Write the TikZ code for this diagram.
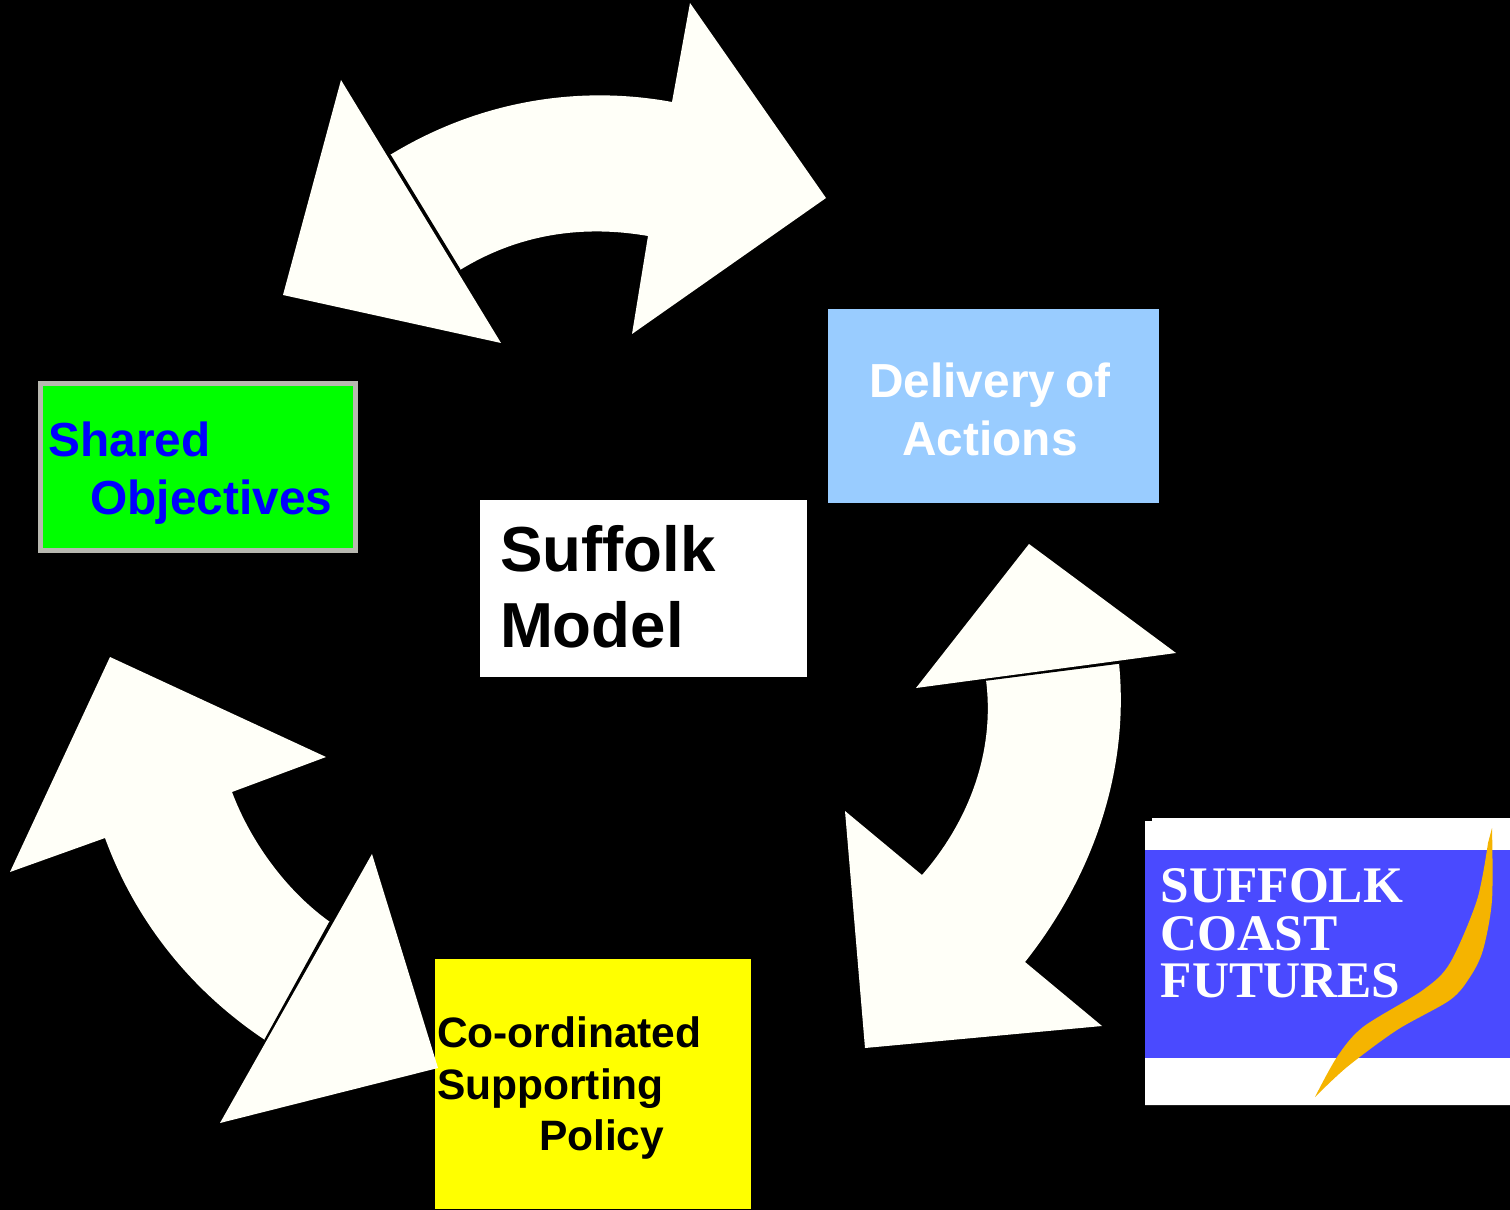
\documentclass[tikz,border=0pt]{standalone}
\usepackage{fontspec}
\setmainfont{Liberation Sans}
\newfontfamily\logofont{Liberation Serif}
\usepackage{tikz}
\definecolor{arrowcream}{HTML}{FFFFF8}
\definecolor{framegrey}{HTML}{B8B8B0}
\definecolor{deliveryblue}{HTML}{99CCFF}
\definecolor{policyyellow}{HTML}{FFFF00}
\definecolor{logoblue}{HTML}{4A4AFF}
\definecolor{logogold}{HTML}{F5B400}

\begin{document}
\begin{tikzpicture}[every node/.style={inner sep=0pt, font=\bfseries},
		box/.style={anchor=center, align=left},
		block/.style={fill=arrowcream},
		seam/.style={black, line width=.015cm}]
		\fill[black] (0, 0) rectangle (15.1, -12.1);
		
		\node[box, fill=green, draw=framegrey, line width=.05cm, minimum width=3.15cm, minimum height=1.67cm, text width=3.15cm, font=\fontsize{13.6}{16.5}\bfseries\selectfont, text=blue] (objectives) at (1.98, -4.67) {\rule{0pt}{.469cm}\hspace*{.08cm}Shared\\\hspace*{.5cm}Objectives};
		\node[box, fill=deliveryblue, minimum width=3.31cm, minimum height=1.94cm, align=center, text width=3.31cm, font=\fontsize{13.6}{16.5}\bfseries\selectfont, text=white] (delivery) at (9.935, -4.06) {\rule{0pt}{.42cm}\hspace*{-.07cm}Delivery\hspace{.22em}of\\\hspace*{-.07cm}Actions};
		\node[box, fill=white, minimum width=3.27cm, minimum height=1.77cm, text width=3.27cm, font=\fontsize{18.1}{21.6}\bfseries\selectfont] (model) at (6.435, -5.885) {\hspace*{.2cm}Suffolk\\\hspace*{.2cm}Model\vspace{.04cm}};
		\node[box, fill=policyyellow, minimum width=3.16cm, minimum height=2.5cm, text width=3.16cm, font=\fontsize{12.1}{14.7}\bfseries\selectfont] (policy) at (5.93, -10.84) {\rule{0pt}{.39cm}\hspace*{.02cm}Co-ordinated\\\hspace*{.02cm}Supporting\\\hspace*{1.04cm}Policy};
		
		% top arrow
		\fill[block] (3.9, -1.55) .. controls (4.8, -1) and (5.8, -.85) .. (6.72, -1.02) -- (6.9, -.03) -- (8.26, -1.98) -- (6.32, -3.34) -- (6.48, -2.36) .. controls (5.85, -2.25) and (5.2, -2.33) .. (4.6, -2.7) -- cycle;
		\fill[block] (3.41, -.8) -- (2.83, -2.95) -- (5.01, -3.43) -- cycle;
		\draw[seam] (3.9, -1.55) -- (4.6, -2.7);
		
		% right arrow
		\fill[block] (11.19, -6.63) .. controls (11.3, -7.75) and (10.9, -8.8) .. (10.25, -9.62) -- (11.02, -10.26) -- (8.65, -10.48) -- (8.45, -8.11) -- (9.22, -8.75) .. controls (9.7, -8.2) and (9.95, -7.5) .. (9.86, -6.8) -- cycle;
		\fill[block] (10.29, -5.44) -- (11.76, -6.53) -- (9.16, -6.88) -- cycle;
		\draw[seam] (9.86, -6.8) -- (11.19, -6.63);
		
		% left arrow
		\fill[block] (3.3, -9.22) .. controls (2.85, -8.9) and (2.5, -8.4) .. (2.32, -7.92) -- (3.26, -7.57) -- (1.1, -6.57) -- (.1, -8.72) -- (1.05, -8.38) .. controls (1.35, -9.2) and (1.9, -9.9) .. (2.65, -10.4) -- cycle;
		\fill[block] (3.72, -8.54) -- (4.38, -10.68) -- (2.2, -11.23) -- cycle;
		\draw[seam] (3.3, -9.22) -- (2.65, -10.4);
		
		% logo
		\fill[white] (11.45, -8.21) -- (11.52, -8.21) -- (11.52, -8.18) -- (15.1, -8.18) -- (15.1, -11.05) -- (11.45, -11.05) -- cycle;
		\fill[logoblue] (11.45, -8.5) rectangle (15.1, -10.58);
		\fill[logogold] plot[smooth, tension=.5] coordinates {(14.92, -8.28) (14.92, -9) (14.83, -9.5) (14.7, -9.77) (14.5, -10) (13.97, -10.3) (13.47, -10.67) (13.15, -10.97)} -- plot[smooth, tension=.5] coordinates {(13.15, -10.97) (13.37, -10.57) (13.63, -10.27) (14.23, -9.9) (14.5, -9.63) (14.77, -9) (14.88, -8.43)} -- cycle;
		\node[anchor=north west, align=left, text=white, font=\fontsize{14.6}{13.5}\logofont\bfseries\selectfont] (logotext) at (11.6, -8.68) {SUFFOLK\\COAST\\FUTURES};
	\end{tikzpicture}
\end{document}
